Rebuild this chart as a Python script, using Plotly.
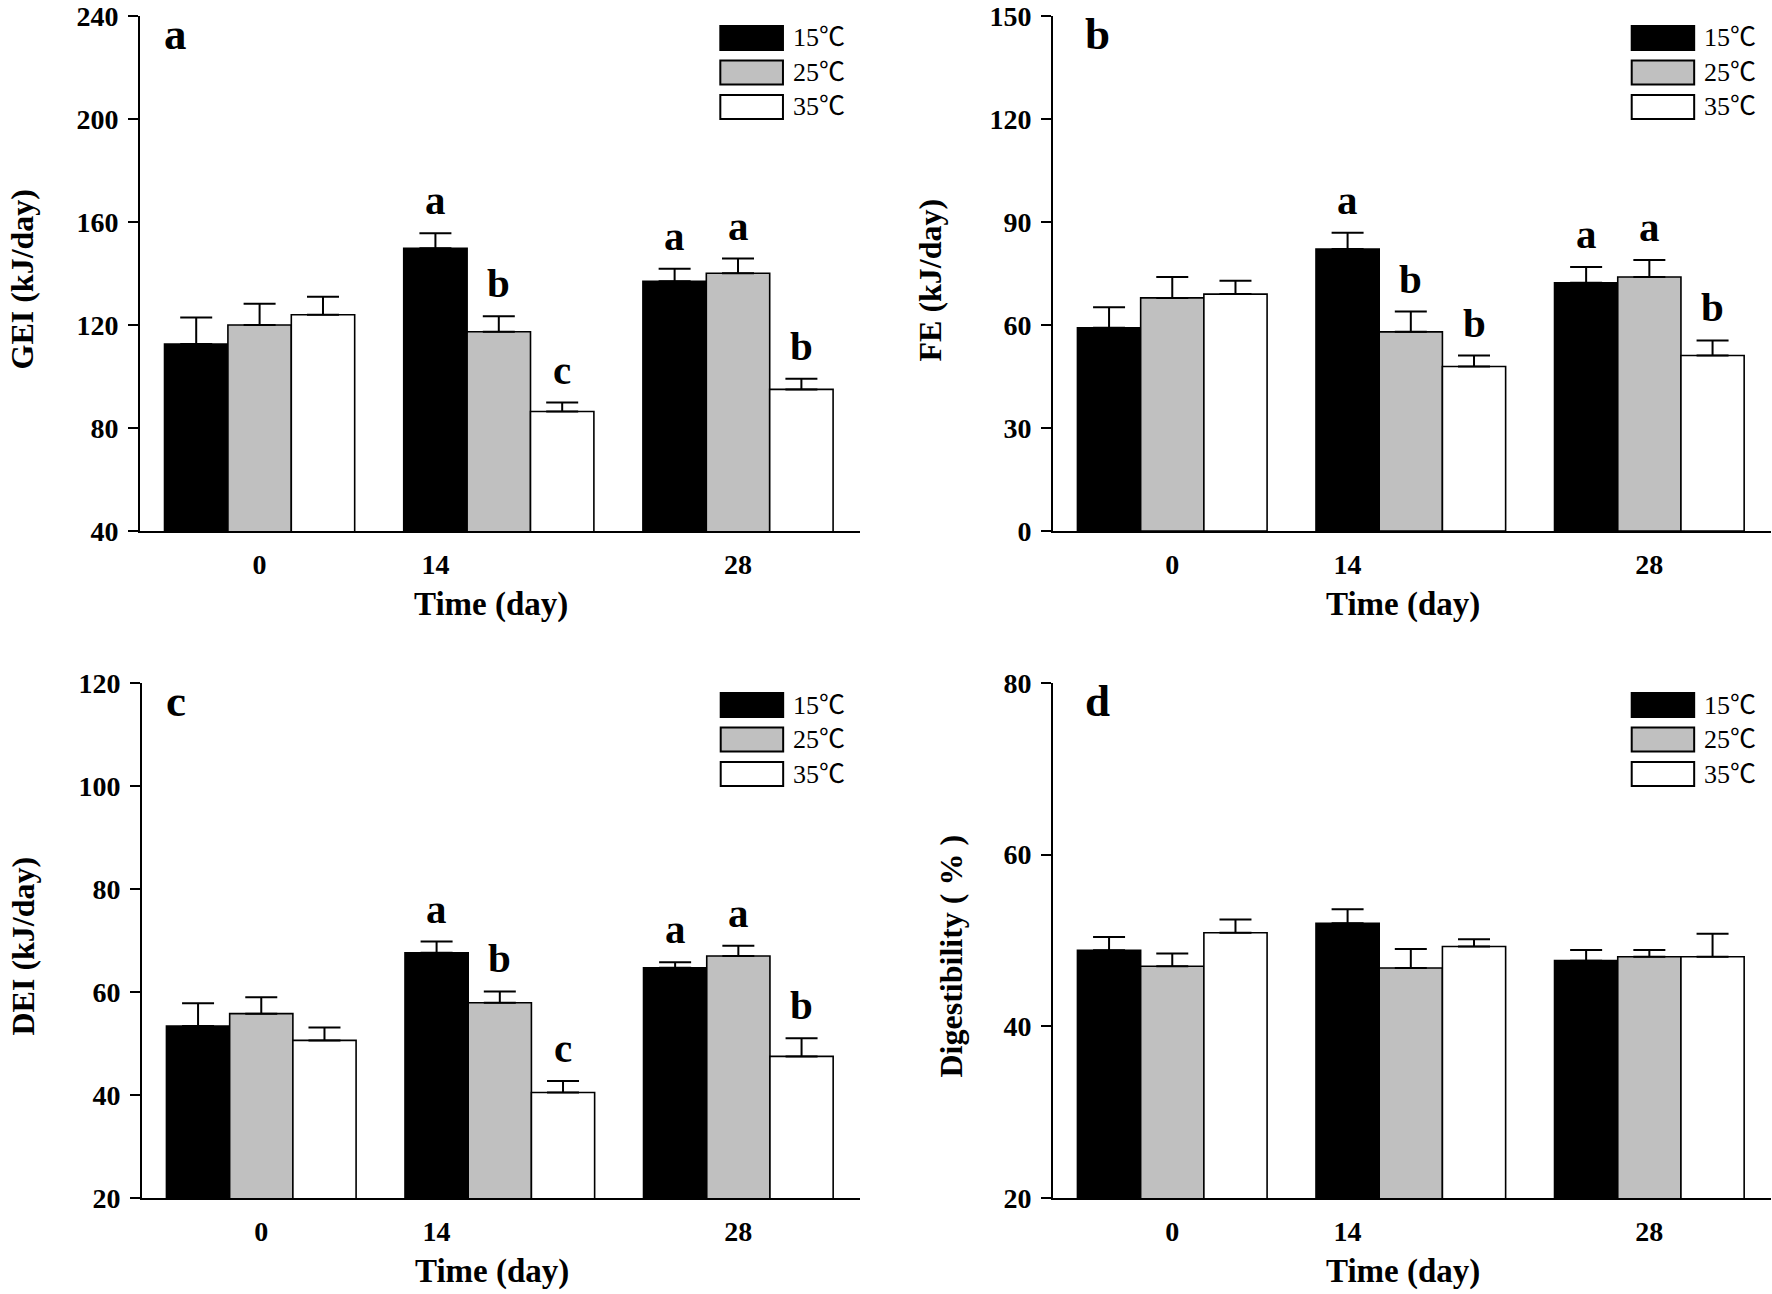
import plotly.graph_objects as go

# ---------------- data ----------------
days = ["0", "14", "28"]
temps = ["15℃", "25℃", "35℃"]

# Panel a: GEI (kJ/day)
gei_15 = [112.6, 149.8, 137.0]
gei_25 = [120.0, 117.4, 140.1]
gei_35 = [124.0, 86.4, 95.0]
gei_15_se = [10.3, 5.8, 4.8]
gei_25_se = [8.3, 6.0, 5.7]
gei_35_se = [7.0, 3.5, 4.1]
gei_letters_15 = ["", "a", "a"]
gei_letters_25 = ["", "b", "a"]
gei_letters_35 = ["", "c", "b"]

# Panel b: FE (kJ/day)
fe_15 = [59.2, 82.1, 72.3]
fe_25 = [67.9, 58.0, 74.0]
fe_35 = [69.0, 47.9, 51.1]
fe_15_se = [6.0, 4.8, 4.6]
fe_25_se = [6.1, 5.9, 4.9]
fe_35_se = [3.9, 3.2, 4.4]
fe_letters_15 = ["", "a", "a"]
fe_letters_25 = ["", "b", "a"]
fe_letters_35 = ["", "b", "b"]

# Panel c: DEI (kJ/day)
dei_15 = [53.4, 67.6, 64.7]
dei_25 = [55.8, 57.9, 67.0]
dei_35 = [50.6, 40.5, 47.5]
dei_15_se = [4.4, 2.2, 1.1]
dei_25_se = [3.2, 2.2, 2.0]
dei_35_se = [2.5, 2.2, 3.5]
dei_letters_15 = ["", "a", "a"]
dei_letters_25 = ["", "b", "a"]
dei_letters_35 = ["", "c", "b"]

# Panel d: Digestibility (%)
dig_15 = [48.85, 52.0, 47.65]
dig_25 = [47.0, 46.8, 48.1]
dig_35 = [50.9, 49.3, 48.1]
dig_15_se = [1.55, 1.65, 1.25]
dig_25_se = [1.5, 2.2, 0.8]
dig_35_se = [1.55, 0.85, 2.7]
dig_letters_15 = ["", "", ""]
dig_letters_25 = ["", "", ""]
dig_letters_35 = ["", "", ""]

# ---------------- style ----------------
FONT = "Liberation Serif, Times New Roman, Noto Sans CJK SC, serif"
LEGFONT = "Liberation Serif, Noto Sans CJK SC, serif"
fills = ["#000000", "#c0c0c0", "#ffffff"]
W, H = 1772, 1294
BARGAP = 0.205
BW = (1 - BARGAP) / 3.0

panels = [
    dict(letter="a", title="GEI (kJ/day)", rng=[40, 240], dtick=40,
         means=[gei_15, gei_25, gei_35], ses=[gei_15_se, gei_25_se, gei_35_se],
         sig=[gei_letters_15, gei_letters_25, gei_letters_35],
         xpx=(140, 860), ypx=(16, 531), title_dx=-119, title_dy=-6, letter_dx=22),
    dict(letter="b", title="FE (kJ/day)", rng=[0, 150], dtick=30,
         means=[fe_15, fe_25, fe_35], ses=[fe_15_se, fe_25_se, fe_35_se],
         sig=[fe_letters_15, fe_letters_25, fe_letters_35],
         xpx=(1053, 1771), ypx=(16, 531), title_dx=-124, title_dy=-7, letter_dx=30),
    dict(letter="c", title="DEI (kJ/day)", rng=[20, 120], dtick=20,
         means=[dei_15, dei_25, dei_35], ses=[dei_15_se, dei_25_se, dei_35_se],
         sig=[dei_letters_15, dei_letters_25, dei_letters_35],
         xpx=(142, 860), ypx=(683, 1198), title_dx=-119, title_dy=-6, letter_dx=22),
    dict(letter="d", title="Digestibility ( % )", rng=[20, 80], dtick=20,
         means=[dig_15, dig_25, dig_35], ses=[dig_15_se, dig_25_se, dig_35_se],
         sig=[dig_letters_15, dig_letters_25, dig_letters_35],
         xpx=(1053, 1771), ypx=(683, 1198), title_dx=-102, title_dy=-16, letter_dx=30),
]

fig = go.Figure()
annotations = []
shapes = []
xpos = list(range(len(days)))
tickvals = [0, 1 - BW, 2]

for i, p in enumerate(panels):
    n = "" if i == 0 else str(i + 1)
    xa, ya = "x" + n, "y" + n
    for k in range(3):
        fig.add_trace(go.Bar(
            x=xpos, y=p["means"][k], name=temps[k], xaxis=xa, yaxis=ya,
            marker=dict(color=fills[k], line=dict(color="black", width=1.6)),
            error_y=dict(type="data", array=p["ses"][k], arrayminus=[0] * 3,
                         symmetric=False, color="black", thickness=2, width=16),
            showlegend=False, hoverinfo="skip",
        ))
        # significance letters
        for j in range(3):
            t = p["sig"][k][j]
            if t:
                annotations.append(dict(
                    x=xpos[j] + (k - 1) * BW, y=p["means"][k][j] + p["ses"][k][j],
                    xref=xa, yref=ya, text="<b>%s</b>" % t, showarrow=False,
                    xanchor="center", yanchor="bottom", yshift=8,
                    font=dict(family=FONT, size=41, color="black")))
    x0, x1 = p["xpx"][0] / W, p["xpx"][1] / W
    y0, y1 = 1 - p["ypx"][1] / H, 1 - p["ypx"][0] / H
    fig.update_layout(**{
        "xaxis" + n: dict(domain=[x0, x1], anchor=ya, range=[-0.5, 2.51],
                          automargin=False,
                          tickmode="array", tickvals=tickvals, ticktext=days,
                          ticks="", showline=True, linecolor="black", linewidth=2,
                          showgrid=False, zeroline=False, ticklabelstandoff=7,
                          tickfont=dict(family=FONT, size=28, color="black", weight="bold")),
        "yaxis" + n: dict(domain=[y0, y1], anchor=xa, range=p["rng"], dtick=p["dtick"],
                          tick0=p["rng"][0], automargin=False,
                          ticks="outside", ticklen=10, tickwidth=2, tickcolor="black",
                          showline=True, linecolor="black", linewidth=2,
                          showgrid=False, zeroline=False, ticklabelstandoff=4,
                          tickfont=dict(family=FONT, size=28, color="black", weight="bold")),
    })
    # y title
    annotations.append(dict(
        x=x0, y=(y0 + y1) / 2, xref="paper", yref="paper", text="<b>%s</b>" % p["title"],
        textangle=-90, showarrow=False, xanchor="center", yanchor="middle",
        xshift=p["title_dx"], yshift=p["title_dy"],
        font=dict(family=FONT, size=32, color="black")))
    # x title
    annotations.append(dict(
        x=x0 + 0.487 * (x1 - x0), y=y0, xref="paper", yref="paper",
        text="<b>Time (day)</b>", showarrow=False, xanchor="center", yanchor="middle",
        yshift=-73, font=dict(family=FONT, size=33, color="black")))
    # panel letter
    annotations.append(dict(
        x=0, y=1, xref=xa + " domain", yref=ya + " domain", text="<b>%s</b>" % p["letter"],
        showarrow=False, xanchor="left", yanchor="top", xshift=p["letter_dx"], yshift=9,
        font=dict(family=FONT, size=45, color="black")))
    # legend (drawn in panel domain coordinates)
    ph = p["ypx"][1] - p["ypx"][0]
    for k in range(3):
        top = 1 - (10 + 34.5 * k) / ph
        bot = 1 - (34 + 34.5 * k) / ph
        shapes.append(dict(type="rect", xref=xa + " domain", yref=ya + " domain",
                           x0=0.806, x1=0.893, y0=bot, y1=top,
                           fillcolor=fills[k], line=dict(color="black", width=2)))
        annotations.append(dict(
            x=0.904, y=(top + bot) / 2, xref=xa + " domain", yref=ya + " domain",
            text=temps[k], showarrow=False, xanchor="left", yanchor="middle",
            font=dict(family=LEGFONT, size=26, color="black")))

fig.update_layout(
    template="none",
    width=W, height=H, margin=dict(l=0, r=0, t=0, b=0, autoexpand=False),
    barmode="group", bargap=BARGAP, bargroupgap=0,
    plot_bgcolor="white", paper_bgcolor="white",
    showlegend=False, annotations=annotations, shapes=shapes,
    font=dict(family=FONT, color="black"),
)

fig.write_html("out.html", config={"displayModeBar": False},
               post_script="document.body.style.margin='0';document.body.style.overflow='hidden';")
